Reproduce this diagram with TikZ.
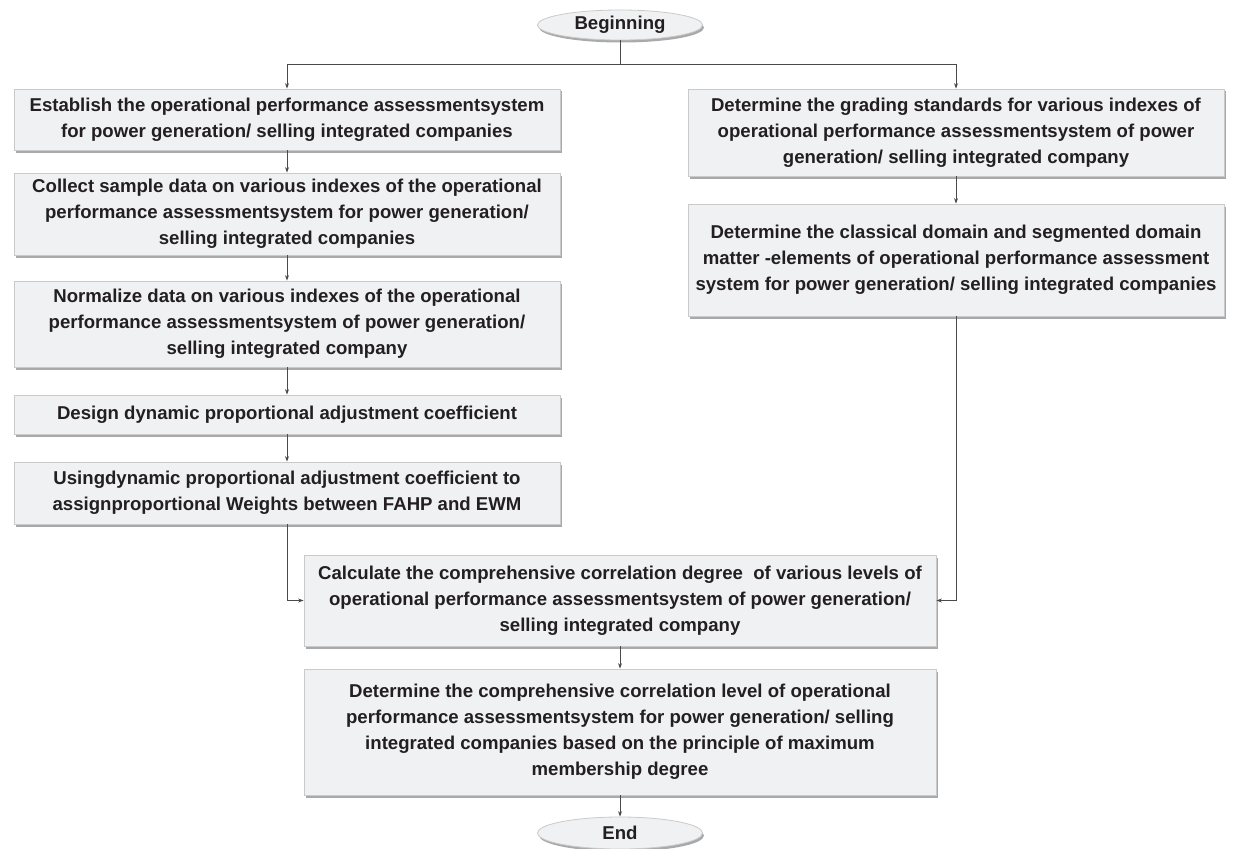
\documentclass[tikz,border=0pt]{standalone}
\usepackage{fontspec}
\setmainfont{Liberation Sans}
\usetikzlibrary{shapes.geometric,shadows,arrows.meta}
\definecolor{boxfill}{HTML}{F0F1F3}
\definecolor{boxline}{HTML}{CACACA}
\definecolor{shadowc}{HTML}{A9A9A9}
\definecolor{linec}{HTML}{4A4A4A}
\definecolor{txt}{HTML}{231F20}
\tikzset{
  flowbox/.style={rectangle, draw=boxline, line width=0.8pt, fill=boxfill,
    inner sep=0pt, align=center, text=txt,
    font=\fontsize{18.6}{26}\selectfont\bfseries,
    drop shadow={shadow xshift=1.5pt, shadow yshift=-2.5pt, fill=shadowc, opacity=1}},
  terminal/.style={ellipse, draw=boxline, line width=0.8pt, fill=boxfill,
    inner sep=0pt, text=txt,
    font=\fontsize{18.6}{22}\selectfont\bfseries,
    drop shadow={shadow xshift=1.5pt, shadow yshift=-2.5pt, fill=shadowc, opacity=1}},
  conn/.style={draw=linec, line width=0.8pt, -{Stealth[length=5.5pt,width=4pt]}},
  plainconn/.style={draw=linec, line width=0.8pt}
}
\begin{document}
\begin{tikzpicture}[x=1pt,y=-1pt]
\useasboundingbox (0,0) rectangle (1233,848);
% terminals
\node[terminal, minimum width=165pt, minimum height=30pt] (begin) at (620,25) {Beginning};
\node[terminal, minimum width=165pt, minimum height=32pt] (end) at (620,833) {End};
% left column
\node[flowbox, minimum width=546pt, minimum height=61pt] (b1) at (287,119.5)
  {Establish the operational performance assessmentsystem\\for power generation/ selling integrated companies};
\node[flowbox, minimum width=546pt, minimum height=82pt] (b2) at (287,214)
  {Collect sample data on various indexes of the operational\\performance assessmentsystem for power generation/\\selling integrated companies};
\node[flowbox, minimum width=546pt, minimum height=86pt] (b3) at (287,324)
  {Normalize data on various indexes of the operational\\performance assessmentsystem of power generation/\\selling integrated company};
\node[flowbox, minimum width=546pt, minimum height=39pt] (b4) at (287,414.5)
  {Design dynamic proportional adjustment coefficient};
\node[flowbox, minimum width=546pt, minimum height=62pt] (b5) at (287,493)
  {Usingdynamic proportional adjustment coefficient to\\assignproportional Weights between FAHP and EWM};
% right column
\node[flowbox, minimum width=536pt, minimum height=87pt] (r1) at (956,132.5)
  {Determine the grading standards for various indexes of\\operational performance assessmentsystem of power\\generation/ selling integrated company};
\node[flowbox, minimum width=536pt, minimum height=112pt] (r2) at (956,260)
  {Determine the classical domain and segmented domain\\matter -elements of operational performance assessment\\system for power generation/ selling integrated companies};
% lower
\node[flowbox, minimum width=632pt, minimum height=91pt] (calc) at (620,600.5)
  {Calculate the comprehensive correlation degree \ of various levels of\\operational performance assessmentsystem of power generation/\\selling integrated company};
\node[flowbox, minimum width=632pt, minimum height=126pt] (final) at (620,732)
  {Determine the comprehensive correlation level of operational\\performance assessmentsystem for power generation/ selling\\integrated companies based on the principle of maximum\\membership degree};
% connectors
\coordinate (split) at (620,64);
\draw[plainconn] (begin.south) -- (split);
\draw[conn] (split) -| (b1.north);
\draw[conn] (split) -| (r1.north);
\draw[conn] (b1) -- (b2);
\draw[conn] (b2) -- (b3);
\draw[conn] (b3) -- (b4);
\draw[conn] (b4) -- (b5);
\draw[conn] (r1) -- (r2);
\draw[conn] (b5.south) |- (calc.west);
\draw[conn] (r2.south) |- (calc.east);
\draw[conn] (calc) -- (final);
\draw[conn] (final) -- (end);
\end{tikzpicture}
\end{document}
